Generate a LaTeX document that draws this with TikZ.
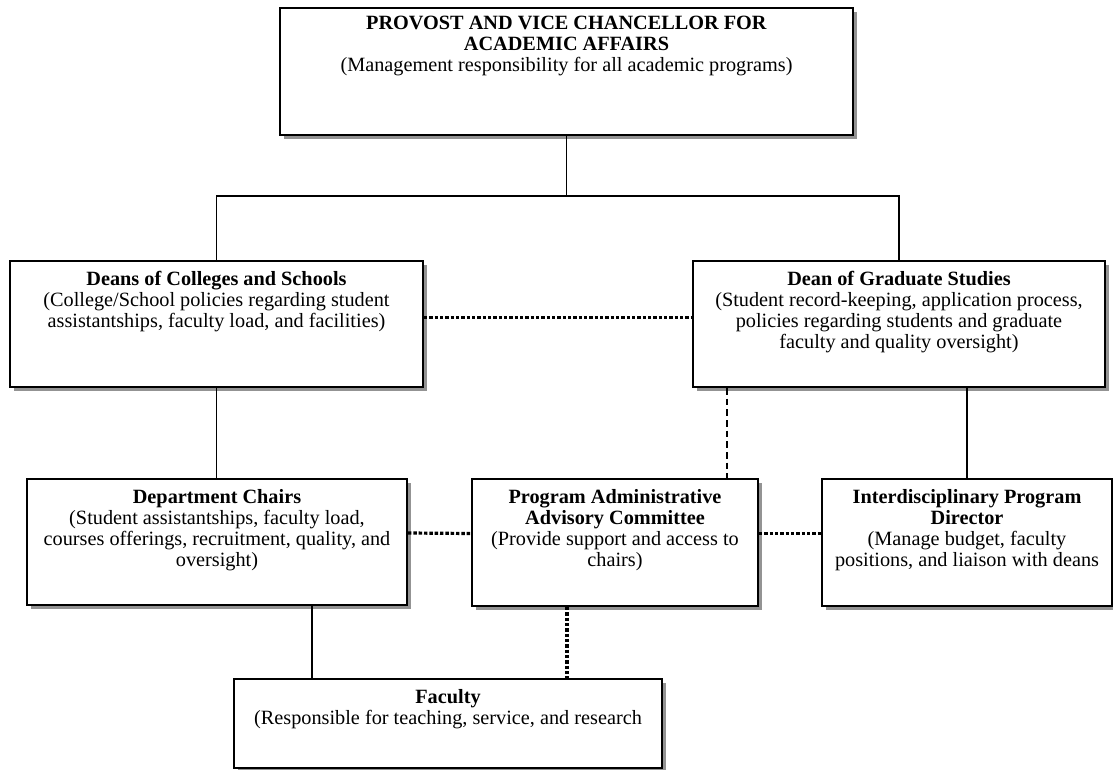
\documentclass[tikz,border=0pt]{standalone}
\usepackage{fontspec}
\setmainfont{Liberation Serif}
\usetikzlibrary{positioning,shadows}

\begin{document}
\begin{tikzpicture}[
	x=0.75pt, y=-0.75pt,
	box/.style = {% unit boxes
		draw, line width=1.5pt, fill=white, inner sep=0pt,
		drop shadow={shadow xshift=3pt, shadow yshift=-3pt, fill=gray!85, opacity=1},},
	txt/.style = {% box texts
		align=center, inner sep=0pt, font=\fontsize{15.2}{15.8}\selectfont,},
	solidlink/.style = {line width=1.2pt},
	dotlink/.style = {line width=2.4pt, dash pattern=on 2.6pt off 1.4pt},
	dashlink/.style = {line width=0.8pt, dash pattern=on 5pt off 3pt},
	]

	\useasboundingbox (0,0) rectangle (1113,770);

	% boxes
	\node[box, minimum width=429.75pt, minimum height=95.25pt] (prov) at (566.5,71.5) {};
	\node[box, minimum width=309.75pt, minimum height=94.5pt] (deans) at (216.5,324) {};
	\node[box, minimum width=309pt, minimum height=94.5pt] (grad) at (899,324) {};
	\node[box, minimum width=285pt, minimum height=94.5pt] (chairs) at (217,542) {};
	\node[box, minimum width=214.5pt, minimum height=95.25pt] (paac) at (615,542.5) {};
	\node[box, minimum width=217.5pt, minimum height=95.25pt] (inter) at (967,542.5) {};
	\node[box, minimum width=321pt, minimum height=66.75pt] (faculty) at (448,723.5) {};

	% texts
	\node[txt, below=6.5pt of prov.north] (provtxt)
		{\textbf{PROVOST AND VICE CHANCELLOR FOR}\\\textbf{ACADEMIC AFFAIRS}\\(Management responsibility for all academic programs)};
	\node[txt, below=8pt of deans.north] (deanstxt)
		{\textbf{Deans of Colleges and Schools}\\(College/School policies regarding student\\assistantships, faculty load, and facilities)};
	\node[txt, below=8pt of grad.north] (gradtxt)
		{\textbf{Dean of Graduate Studies}\\(Student record-keeping, application process,\\policies regarding students and graduate\\faculty and quality oversight)};
	\node[txt, below=8pt of chairs.north] (chairstxt)
		{\textbf{Department Chairs}\\(Student assistantships, faculty load,\\courses offerings, recruitment, quality, and\\oversight)};
	\node[txt, below=8pt of paac.north] (paactxt)
		{\textbf{Program Administrative}\\\textbf{Advisory Committee}\\(Provide support and access to\\chairs)};
	\node[txt, below=8pt of inter.north] (intertxt)
		{\textbf{Interdisciplinary Program}\\\textbf{Director}\\(Manage budget, faculty\\positions, and liaison with deans};
	\node[txt, below=8pt of faculty.north] (facultytxt)
		{\textbf{Faculty}\\(Responsible for teaching, service, and research};

	% links
	\coordinate (bar) at (566.5,196);
	\coordinate (gp) at (727,0);
	\coordinate (cf) at (312,0);
	\coordinate (pf) at (567,0);
	\draw[solidlink] (prov) -- (bar);
	\draw[solidlink] (deans) |- (bar) -| (grad);
	\draw[dotlink] ([yshift=5pt]deans.east) -- ([yshift=5pt]grad.west);
	\draw[solidlink] (deans.south) -- (deans.south |- chairs.north);
	\draw[dashlink] (grad.south -| gp) -- (paac.north -| gp);
	\draw[solidlink] (grad.south -| inter.north) -- (inter.north);
	\draw[dotlink] ([yshift=6.75pt]chairs.east) -- ([yshift=6.75pt]paac.west);
	\draw[dotlink] ([yshift=6.75pt]paac.east) -- ([yshift=6.75pt]inter.west);
	\draw[solidlink] (chairs.south -| cf) -- (faculty.north -| cf);
	\draw[dotlink] (paac.south -| pf) -- (faculty.north -| pf);

\end{tikzpicture}
\end{document}
